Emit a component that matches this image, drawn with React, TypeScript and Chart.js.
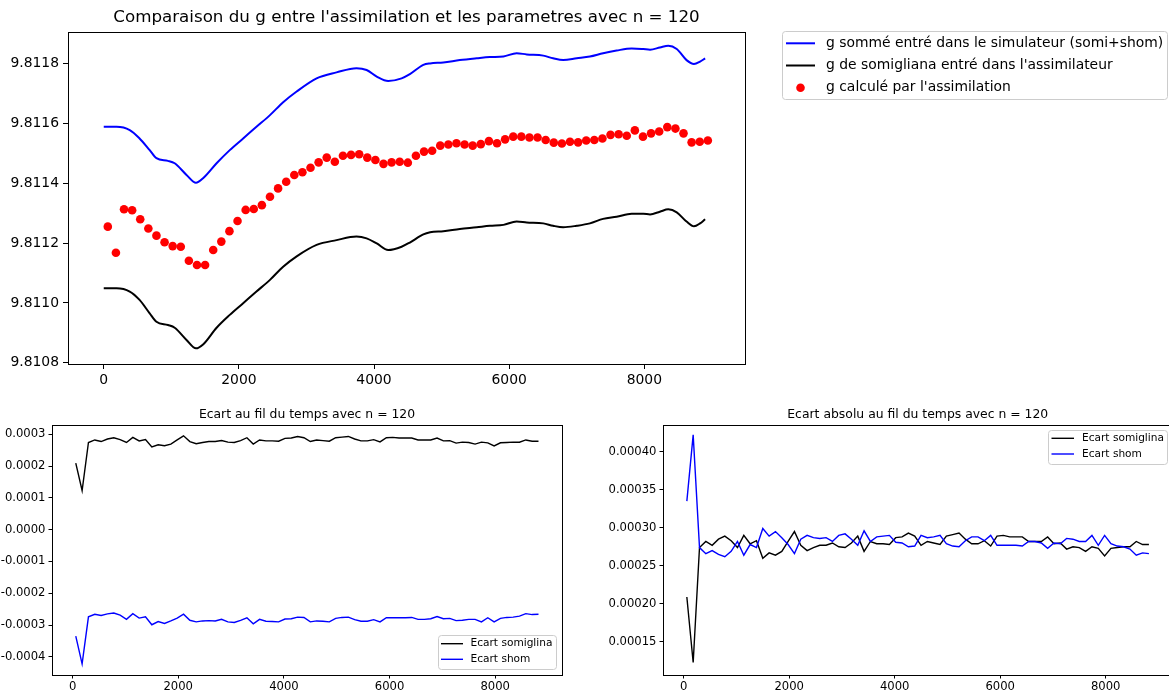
import React, { useEffect, useRef } from "react";
import { Chart, registerables } from "chart.js";

Chart.register(...registerables);

const FAMILY = "'DejaVu Sans', 'Liberation Sans', sans-serif";

// ---------------- Top chart data ----------------
const topTitle = "Comparaison du g entre l'assimilation et les parametres avec n = 120";
const labelSumme = "g sommé entré dans le simulateur (somi+shom)";
const labelSomigliana = "g de somigliana entré dans l'assimilateur";
const labelAssim = "g calculé par l'assimilation";

const topLineX = [0, 190, 385, 530, 680, 780, 950, 1050, 1225, 1365, 1470, 1670, 1865, 2063, 2260, 2460, 2655, 2850, 3150, 3445, 3740, 3890, 4040, 4210, 4408, 4530, 4730, 4830, 5025, 5270, 5520, 5715, 5915, 6110, 6260, 6505, 6650, 6800, 7000, 7195, 7390, 7590, 7813, 7985, 8085, 8230, 8355, 8480, 8625, 8735, 8825, 8900];

const gSumme = [
  9.811589, 9.811589, 9.811578, 9.81155, 9.811511, 9.811484, 9.811475, 9.811467, 9.811428, 9.811402,
  9.811417, 9.811467, 9.811511, 9.81155, 9.811589, 9.811628, 9.811671, 9.811706, 9.811751, 9.811771,
  9.811785, 9.811779, 9.811757, 9.811742, 9.811751, 9.811765, 9.811796, 9.811801, 9.811804, 9.811812,
  9.811818, 9.811822, 9.811824, 9.811835, 9.811831, 9.811827, 9.811818, 9.811812, 9.811818, 9.811824,
  9.811835, 9.811844, 9.811851, 9.811849, 9.811847, 9.811854, 9.81186, 9.811849, 9.811812, 9.811799,
  9.811807, 9.811818,
];

const gSomigliana = [
  9.811049, 9.811049, 9.811038, 9.81101, 9.810965, 9.810937, 9.810926, 9.810917, 9.810876, 9.810848,
  9.810861, 9.810917, 9.81096, 9.810999, 9.811038, 9.811077, 9.811121, 9.811155, 9.811194, 9.81121,
  9.811222, 9.811216, 9.811199, 9.811177, 9.811188, 9.811202, 9.811229, 9.811236, 9.81124, 9.811247,
  9.811253, 9.811258, 9.811261, 9.811272, 9.811269, 9.811266, 9.811258, 9.811253, 9.811258, 9.811266,
  9.811281, 9.811288, 9.811298, 9.811298, 9.811296, 9.811305, 9.811313, 9.811303, 9.811272, 9.811256,
  9.811266, 9.81128,
];

const assimX = [
  60, 180, 300, 420, 540, 660, 780, 900, 1020, 1140, 1260, 1380, 1500, 1620, 1740, 1860, 1980, 2100, 2220, 2340,
  2460, 2580, 2700, 2820, 2940, 3060, 3180, 3300, 3420, 3540, 3660, 3780, 3900, 4020, 4140, 4260, 4380, 4500, 4620, 4740,
  4860, 4980, 5100, 5220, 5340, 5460, 5580, 5700, 5820, 5940, 6060, 6180, 6300, 6420, 6540, 6660, 6780, 6900, 7020, 7140,
  7260, 7380, 7500, 7620, 7740, 7860, 7980, 8100, 8220, 8340, 8460, 8580, 8700, 8820, 8940,
];

const gAssim = [
  9.811255, 9.811168, 9.811313, 9.81131, 9.81128, 9.811249, 9.811225, 9.811203, 9.81119, 9.811188,
  9.811141, 9.811127, 9.811127, 9.811177, 9.811205, 9.81124, 9.811274, 9.811311, 9.811314, 9.811327,
  9.811355, 9.811383, 9.811405, 9.811428, 9.811437, 9.811452, 9.81147, 9.811486, 9.811472, 9.811492,
  9.811495, 9.811497, 9.811486, 9.811478, 9.811465, 9.81147, 9.811472, 9.811469, 9.811492, 9.811506,
  9.811509, 9.811526, 9.81153, 9.811534, 9.81153, 9.811526, 9.811531, 9.811541, 9.811534, 9.811547,
  9.811556, 9.811556, 9.811553, 9.811553, 9.811545, 9.811536, 9.811533, 9.811539, 9.811537, 9.811543,
  9.811545, 9.81155, 9.811562, 9.811564, 9.811559, 9.811577, 9.811556, 9.811567, 9.811573, 9.811588,
  9.811583, 9.811567, 9.811537, 9.811539, 9.811543,
];

const topXTicks = [0, 2000, 4000, 6000, 8000];
const topYTicks = [9.8108, 9.811, 9.8112, 9.8114, 9.8116, 9.8118];

// ---------------- Bottom charts data ----------------
const ecartTitle = "Ecart au fil du temps avec n = 120";
const absTitle = "Ecart absolu au fil du temps avec n = 120";
const labelEcartSomi = "Ecart somiglina";
const labelEcartShom = "Ecart shom";

const ecartX = [
  60, 180, 300, 420, 540, 660, 780, 900, 1020, 1140, 1260, 1380, 1500, 1620, 1740, 1860, 1980, 2100, 2220, 2340,
  2460, 2580, 2700, 2820, 2940, 3060, 3180, 3300, 3420, 3540, 3660, 3780, 3900, 4020, 4140, 4260, 4380, 4500, 4620, 4740,
  4860, 4980, 5100, 5220, 5340, 5460, 5580, 5700, 5820, 5940, 6060, 6180, 6300, 6420, 6540, 6660, 6780, 6900, 7020, 7140,
  7260, 7380, 7500, 7620, 7740, 7860, 7980, 8100, 8220, 8340, 8460, 8580, 8700, 8820,
];

const ecartSomi = [
  0.000209, 0.000123, 0.000274, 0.000282, 0.000277, 0.000285, 0.000289, 0.000283, 0.000274, 0.00029,
  0.000279, 0.000283, 0.00026, 0.000267, 0.000264, 0.000269, 0.000282, 0.000295, 0.000277, 0.00027,
  0.000274, 0.000277, 0.000277, 0.00028, 0.000275, 0.000274, 0.00028, 0.000289, 0.000269, 0.000282,
  0.000279, 0.000279, 0.000278, 0.000287, 0.000288, 0.000293, 0.000289, 0.000277, 0.000282, 0.00028,
  0.000278, 0.000289, 0.000291, 0.000293, 0.000285, 0.000279, 0.000279, 0.000283, 0.000276, 0.000289,
  0.00029, 0.000288, 0.000288, 0.000288, 0.000282, 0.000282, 0.000282, 0.000288, 0.000279, 0.00028,
  0.000272, 0.000275, 0.000274, 0.000269, 0.000275, 0.000273, 0.000263, 0.000273, 0.000274, 0.000275,
  0.000275, 0.000282, 0.000278, 0.000278,
];

const ecartShom = [
  -0.000335, -0.000422, -0.000274, -0.000266, -0.00027, -0.000265, -0.000262, -0.000269, -0.000282, -0.000264,
  -0.000278, -0.000274, -0.000299, -0.000289, -0.000295, -0.000287, -0.000278, -0.000266, -0.000285, -0.00029,
  -0.000287, -0.000286, -0.000287, -0.000282, -0.00029, -0.000292, -0.000285, -0.000277, -0.000296, -0.000282,
  -0.000288, -0.000289, -0.00029, -0.000281, -0.00028, -0.000275, -0.000276, -0.00029, -0.000287, -0.000288,
  -0.00029, -0.000279, -0.000276, -0.000275, -0.000283, -0.000288, -0.000288, -0.000283, -0.00029, -0.000277,
  -0.000277, -0.000277, -0.000277, -0.000276, -0.000282, -0.000282, -0.00028, -0.000273, -0.00028, -0.000279,
  -0.000286, -0.000285, -0.000282, -0.000282, -0.00029, -0.000277, -0.00029, -0.000279, -0.000276, -0.000275,
  -0.000272, -0.000264, -0.000267, -0.000266,
];

const absSomi = [
  0.000209, 0.000123, 0.000274, 0.000282, 0.000277, 0.000285, 0.000289, 0.000283, 0.000274, 0.00029,
  0.000279, 0.000283, 0.00026, 0.000267, 0.000264, 0.000269, 0.000282, 0.000295, 0.000277, 0.00027,
  0.000274, 0.000277, 0.000277, 0.00028, 0.000275, 0.000274, 0.00028, 0.000289, 0.000269, 0.000282,
  0.000279, 0.000279, 0.000278, 0.000287, 0.000288, 0.000293, 0.000289, 0.000277, 0.000282, 0.00028,
  0.000278, 0.000289, 0.000291, 0.000293, 0.000285, 0.000279, 0.000279, 0.000283, 0.000276, 0.000289,
  0.00029, 0.000288, 0.000288, 0.000288, 0.000282, 0.000282, 0.000282, 0.000288, 0.000279, 0.00028,
  0.000272, 0.000275, 0.000274, 0.000269, 0.000275, 0.000273, 0.000263, 0.000273, 0.000274, 0.000275,
  0.000275, 0.000282, 0.000278, 0.000278,
];

const absShom = [
  0.000335, 0.000422, 0.000274, 0.000266, 0.00027, 0.000265, 0.000262, 0.000269, 0.000282, 0.000264,
  0.000278, 0.000274, 0.000299, 0.000289, 0.000295, 0.000287, 0.000278, 0.000266, 0.000285, 0.00029,
  0.000287, 0.000286, 0.000287, 0.000282, 0.00029, 0.000292, 0.000285, 0.000277, 0.000296, 0.000282,
  0.000288, 0.000289, 0.00029, 0.000281, 0.00028, 0.000275, 0.000276, 0.00029, 0.000287, 0.000288,
  0.00029, 0.000279, 0.000276, 0.000275, 0.000283, 0.000288, 0.000288, 0.000283, 0.00029, 0.000277,
  0.000277, 0.000277, 0.000277, 0.000276, 0.000282, 0.000282, 0.00028, 0.000273, 0.00028, 0.000279,
  0.000286, 0.000285, 0.000282, 0.000282, 0.00029, 0.000277, 0.00029, 0.000279, 0.000276, 0.000275,
  0.000272, 0.000264, 0.000267, 0.000266,
];

const bottomXTicks = [0, 2000, 4000, 6000, 8000];
const ecartYTicks = [-0.0004, -0.0003, -0.0002, -0.0001, 0, 0.0001, 0.0002, 0.0003];
const absYTicks = [0.00015, 0.0002, 0.00025, 0.0003, 0.00035, 0.0004];

// ---------------- helpers ----------------
const pts = (xs: number[], ys: number[]) => xs.map((x, i) => ({ x, y: ys[i] }));

const framePlugin = {
  id: "mplFrame",
  afterDatasetsDraw(chart: any) {
    const { ctx, chartArea: a } = chart;
    const l = Math.round(a.left) + 0.5;
    const t = Math.round(a.top) + 0.5;
    const r = Math.round(a.right) + 0.5;
    const b = Math.round(a.bottom) + 0.5;
    ctx.save();
    ctx.strokeStyle = "#000";
    ctx.lineWidth = 1;
    ctx.strokeRect(l, t, r - l, b - t);
    ctx.restore();
  },
};

type LegendCfg = {
  box: number[];
  rowY: number[];
  handleX0: number;
  handleX1: number;
  textX: number;
  fontSize: number;
  datasets: number[];
};

function makeLegendPlugin(cfg: LegendCfg) {
  return {
    id: "mplLegend",
    afterDraw(chart: any) {
      const ctx = chart.ctx as CanvasRenderingContext2D;
      const [bx, by, bw, bh] = cfg.box;
      ctx.save();
      ctx.beginPath();
      if ((ctx as any).roundRect) (ctx as any).roundRect(bx + 0.5, by + 0.5, bw, bh, 3);
      else ctx.rect(bx + 0.5, by + 0.5, bw, bh);
      ctx.fillStyle = "rgba(255,255,255,0.8)";
      ctx.fill();
      ctx.strokeStyle = "#cccccc";
      ctx.lineWidth = 1;
      ctx.stroke();
      cfg.datasets.forEach((di, row) => {
        const ds: any = chart.data.datasets[di];
        const y = cfg.rowY[row];
        if (ds.showLine === false) {
          ctx.beginPath();
          ctx.arc((cfg.handleX0 + cfg.handleX1) / 2, y, ds.pointRadius, 0, Math.PI * 2);
          ctx.fillStyle = ds.backgroundColor;
          ctx.fill();
        } else {
          ctx.beginPath();
          ctx.moveTo(cfg.handleX0, y);
          ctx.lineTo(cfg.handleX1, y);
          ctx.strokeStyle = ds.borderColor;
          ctx.lineWidth = ds.borderWidth;
          ctx.lineCap = "butt";
          ctx.stroke();
        }
        ctx.fillStyle = "#000";
        ctx.font = `${cfg.fontSize}px ${FAMILY}`;
        ctx.textAlign = "left";
        ctx.textBaseline = "middle";
        ctx.fillText(ds.label, cfg.textX, y);
      });
      ctx.restore();
    },
  };
}

type AxisOpts = {
  xMin: number; xMax: number; yMin: number; yMax: number;
  xTicks: number[]; yTicks: number[]; yDec: number;
  yWidth: number; xHeight: number;
  tickSize: number; tickLen: number; padX: number; padY: number;
};

function buildScales(o: AxisOpts) {
  const font = { family: FAMILY, size: o.tickSize };
  const grid = { display: true, drawOnChartArea: false, drawTicks: true, tickLength: o.tickLen, color: "#000", lineWidth: 1 };
  return {
    x: {
      type: "linear",
      min: o.xMin,
      max: o.xMax,
      afterBuildTicks: (s: any) => { s.ticks = o.xTicks.map((v) => ({ value: v })); },
      afterFit: (s: any) => { s.height = o.xHeight; },
      grid,
      border: { display: false },
      ticks: { font, color: "#000", padding: o.padX, maxRotation: 0, autoSkip: false, callback: (v: any) => String(v) },
    },
    y: {
      type: "linear",
      min: o.yMin,
      max: o.yMax,
      afterBuildTicks: (s: any) => { s.ticks = o.yTicks.map((v) => ({ value: v })); },
      afterFit: (s: any) => { s.width = o.yWidth; },
      grid,
      border: { display: false },
      ticks: { font, color: "#000", padding: o.padY, autoSkip: false, callback: (v: any) => Number(v).toFixed(o.yDec) },
    },
  };
}

function makeTopConfig(): any {
  return {
    type: "line",
    data: {
      datasets: [
        { label: labelSumme, data: pts(topLineX, gSumme), borderColor: "#0000ff", backgroundColor: "#0000ff", borderWidth: 2, pointRadius: 0, cubicInterpolationMode: "monotone", order: 2 },
        { label: labelSomigliana, data: pts(topLineX, gSomigliana), borderColor: "#000000", backgroundColor: "#000000", borderWidth: 2, pointRadius: 0, cubicInterpolationMode: "monotone", order: 1 },
        { label: labelAssim, data: pts(assimX, gAssim), showLine: false, pointRadius: 4.3, pointBorderWidth: 0, borderColor: "#ff0000", backgroundColor: "#ff0000", pointBackgroundColor: "#ff0000", order: 0 },
      ],
    },
    options: {
      responsive: false,
      animation: false,
      events: [],
      layout: { padding: { left: 0, top: 0, right: 1169 - 745, bottom: 0 } },
      plugins: {
        legend: { display: false },
        tooltip: { enabled: false },
        title: {
          display: true, text: topTitle, fullSize: false, color: "#000",
          font: { family: FAMILY, size: 16.7, weight: "normal" },
          padding: { top: 8, bottom: 32 - 8 - 16.7 * 1.2 },
        },
      },
      scales: buildScales({
        xMin: -529, xMax: 9490, yMin: 9.8107957, yMax: 9.811906,
        xTicks: topXTicks, yTicks: topYTicks, yDec: 4,
        yWidth: 68, xHeight: 395 - 364,
        tickSize: 13.9, tickLen: 5, padX: 3, padY: 4,
      }),
    },
    plugins: [
      framePlugin,
      makeLegendPlugin({ box: [782, 31, 385, 68], rowY: [43.3, 65.5, 87.7], handleX0: 786, handleX1: 815, textX: 826, fontSize: 13.9, datasets: [0, 1, 2] }),
    ],
  };
}

function makeBottomConfig(kind: "ecart" | "abs"): any {
  const isEcart = kind === "ecart";
  const W = isEcart ? 580 : 600;
  const right = isEcart ? 562 : 592.5;
  const left = isEcart ? 52 : 83;
  const somi = isEcart ? ecartSomi : absSomi;
  const shom = isEcart ? ecartShom : absShom;
  const titleSize = 12.4;
  return {
    type: "line",
    data: {
      datasets: [
        { label: labelEcartSomi, data: pts(ecartX, somi), borderColor: "#000000", backgroundColor: "#000000", borderWidth: 1.4, pointRadius: 0, tension: 0, order: 1 },
        { label: labelEcartShom, data: pts(ecartX, shom), borderColor: "#0000ff", backgroundColor: "#0000ff", borderWidth: 1.4, pointRadius: 0, tension: 0, order: 0 },
      ],
    },
    options: {
      responsive: false,
      animation: false,
      events: [],
      layout: { padding: { left: 0, top: 0, right: W - right, bottom: 0 } },
      plugins: {
        legend: { display: false },
        tooltip: { enabled: false },
        title: {
          display: true, text: isEcart ? ecartTitle : absTitle, fullSize: false, color: "#000",
          font: { family: FAMILY, size: titleSize, weight: "normal" },
          padding: { top: 12.5, bottom: 30 - 12.5 - titleSize * 1.2 },
        },
      },
      scales: buildScales(
        isEcart
          ? { xMin: -390, xMax: 9265, yMin: -0.000457, yMax: 0.000329, xTicks: bottomXTicks, yTicks: ecartYTicks, yDec: 4, yWidth: left, xHeight: 298 - 280, tickSize: 11.6, tickLen: 3.5, padX: 2, padY: 3 }
          : { xMin: -392, xMax: 9267, yMin: 0.0001066, yMax: 0.000435, xTicks: bottomXTicks, yTicks: absYTicks, yDec: 5, yWidth: left, xHeight: 298 - 280, tickSize: 11.6, tickLen: 3.5, padX: 2, padY: 3 }
      ),
    },
    plugins: [
      framePlugin,
      makeLegendPlugin(
        isEcart
          ? { box: [438, 240, 118, 34], rowY: [248.7, 264.3], handleX0: 441, handleX1: 463, textX: 470.5, fontSize: 10.6, datasets: [0, 1] }
          : { box: [468, 35, 119, 34], rowY: [43.3, 59], handleX0: 471.5, handleX1: 494, textX: 502, fontSize: 10.6, datasets: [0, 1] }
      ),
    ],
  };
}

function ChartCanvas(props: { make: () => any; left: number; top: number; width: number; height: number }) {
  const ref = useRef<HTMLCanvasElement>(null);
  useEffect(() => {
    const chart = new Chart(ref.current as HTMLCanvasElement, props.make());
    return () => chart.destroy();
  }, []);
  return (
    <canvas
      ref={ref}
      width={props.width}
      height={props.height}
      style={{ position: "absolute", left: props.left, top: props.top, width: props.width, height: props.height }}
    />
  );
}

export default function App() {
  return (
    <div style={{ position: "absolute", left: 0, top: 0, width: 1169, height: 693, overflow: "hidden", background: "#fff" }}>
      <ChartCanvas make={makeTopConfig} left={0} top={0} width={1169} height={395} />
      <ChartCanvas make={() => makeBottomConfig("ecart")} left={0} top={395} width={580} height={298} />
      <ChartCanvas make={() => makeBottomConfig("abs")} left={580} top={395} width={600} height={298} />
    </div>
  );
}
